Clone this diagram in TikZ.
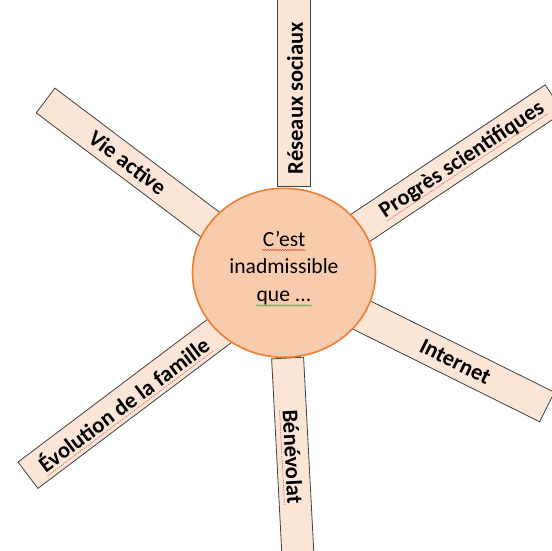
\documentclass[tikz,border=0pt]{standalone}
\usepackage{fontspec}
\setmainfont{Carlito}
\usetikzlibrary{shapes.geometric,calc,decorations.pathmorphing}
\definecolor{circfill}{HTML}{F8CBAD}
\definecolor{circline}{HTML}{ED7D31}
\definecolor{boxfill}{HTML}{FBE5D6}
\definecolor{boxline}{HTML}{404040}
\definecolor{spellred}{HTML}{E04848}
\definecolor{grammargreen}{HTML}{3FA34D}
\tikzset{
  ray/.style={rectangle, draw=boxline, fill=boxfill, line width=0.8pt, inner sep=0pt},
  raytext/.style={inner sep=0pt, font=\fontsize{22.5}{27}\selectfont\bfseries},
  hub/.style={ellipse, draw=circline, fill=circfill, line width=1.6pt, inner sep=0pt},
  hubtext/.style={align=center, inner sep=0pt, font=\fontsize{21.6}{27.5}\selectfont},
  spell/.style={spellred, line width=0.6pt, dash pattern=on 1.2pt off 1.2pt},
  wavyred/.style={spellred, line width=0.5pt, decorate, decoration={snake, segment length=2.5pt, amplitude=0.7pt}},
  wavygreen/.style={grammargreen, line width=0.5pt, decorate, decoration={snake, segment length=2.5pt, amplitude=0.7pt}}
}
\begin{document}
\begin{tikzpicture}[x=1pt,y=-1pt]
\path[use as bounding box] (0,0) rectangle (552,551);
\clip (0,0) rectangle (552,551);
\fill[white] (0,0) rectangle (552,551);

% rays
\node[ray, rotate=90, minimum width=188pt, minimum height=33pt] (r1) at (293.5,92) {};
\node[ray, rotate=-87, minimum width=210pt, minimum height=32pt] (r2) at (293.1,462.9) {};
\node[ray, rotate=-37, minimum width=212pt, minimum height=31pt] (r3) at (130.2,164.3) {};
\node[ray, rotate=33.7, minimum width=241pt, minimum height=33pt] (r4) at (454.1,165.4) {};
\node[ray, rotate=-26.4, minimum width=212.8pt, minimum height=33pt] (r5) at (451.7,359.7) {};
\node[ray, rotate=37, minimum width=245pt, minimum height=33pt] (r6) at (125.8,401.5) {};

% hub
\node[hub, minimum width=183pt, minimum height=169pt] (hub) at (284,272.8) {};
\node[hubtext] (ht) at (284,268) {C’est\\inadmissible\\que ...};
\draw[wavyred] (262,250) -- (306,250);
\draw[wavygreen] (256,305.5) -- (312,305.5);

% labels
\node[raytext, rotate=90] (t1) at (295,98) {Réseaux sociaux};
\node[raytext, rotate=-87] (t2) at (292.8,456.9) {Bénévolat};
\node[raytext, rotate=-37] (t3) at (127.8,162.5) {Vie active};
\node[raytext, rotate=33.7] (t4) at (462,160.1) {Progrès scientifiques};
\node[raytext, rotate=-26.4] (t5) at (455.3,361.5) {Internet};
\node[raytext, rotate=37] (t6) at (123,403.6) {Évolution de la famille};

\draw[spell] ($(t2.base west)!3pt!-90:(t2.base east)$) -- ($(t2.base east)!3pt!90:(t2.base west)$);
\draw[spell] ($(t4.base west)!3pt!-90:(t4.base east)$) -- ($(t4.base east)!3pt!90:(t4.base west)$);
\draw[spell] ($(t6.base west)!3pt!-90:(t6.base east)$) -- ($(t6.base east)!3pt!90:(t6.base west)$);
\end{tikzpicture}
\end{document}
